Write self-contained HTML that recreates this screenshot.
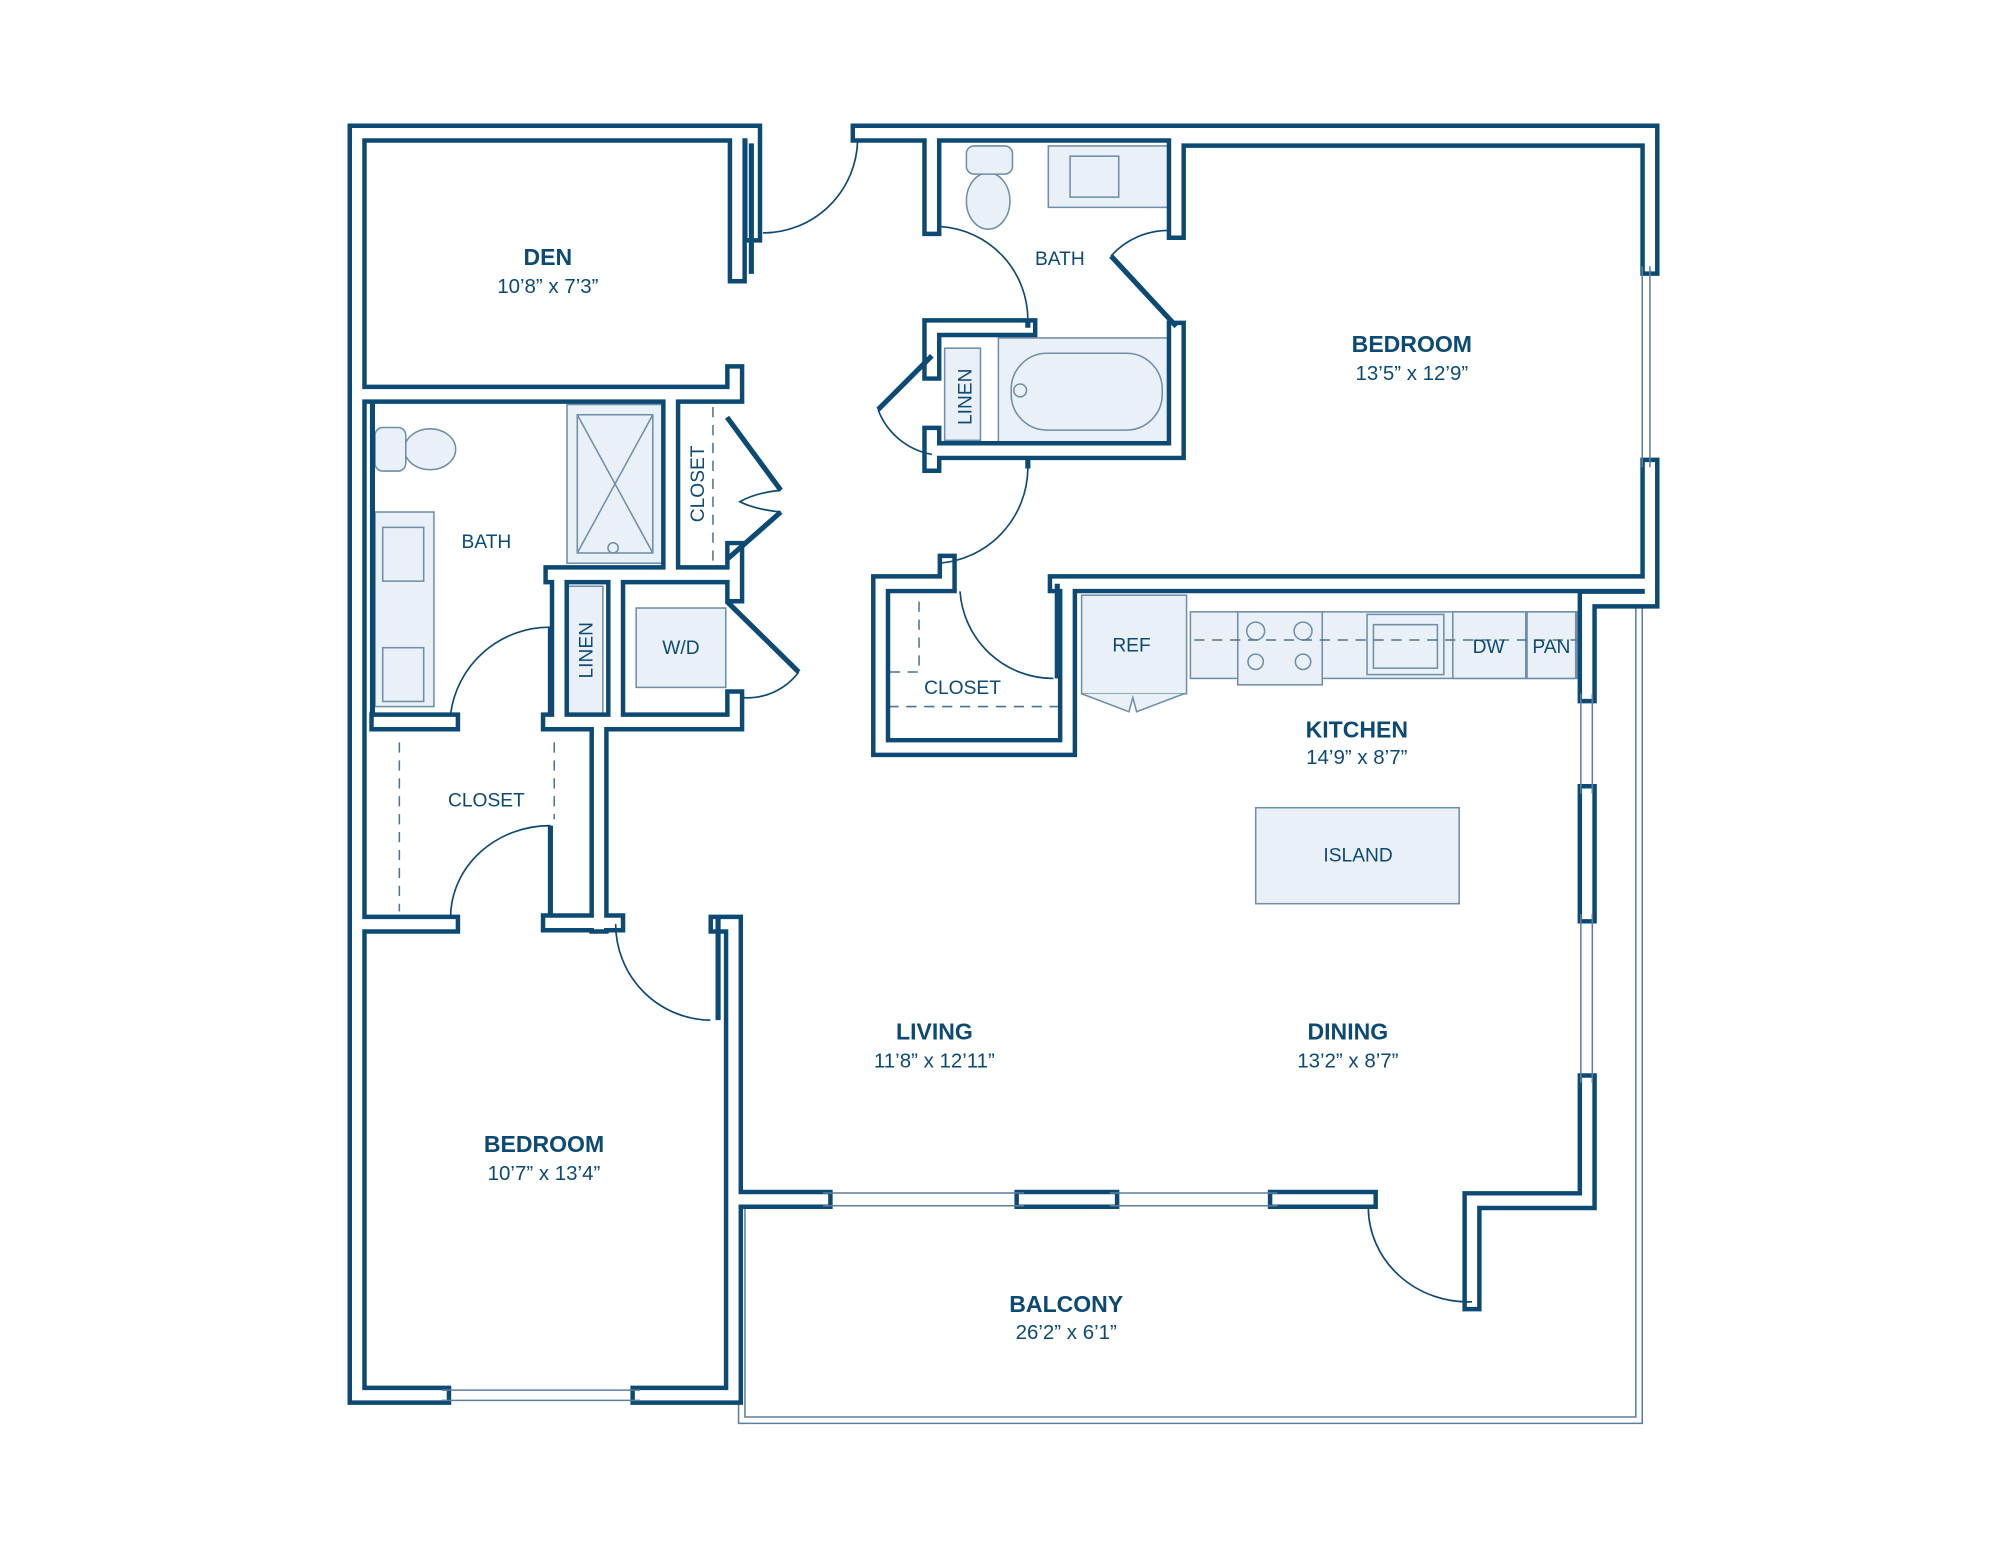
<!DOCTYPE html>
<html><head><meta charset="utf-8"><style>
html,body{margin:0;padding:0;background:#fff;}
svg{display:block;}
text{font-family:"Liberation Sans",sans-serif;fill:#0d4a73;}
.b{font-weight:bold;font-size:18px;}
.d{font-size:16px;}
.s{font-size:15px;}
</style></head><body>
<svg width="2000" height="1545" viewBox="0 0 1562.5 1207" preserveAspectRatio="none" xmlns="http://www.w3.org/2000/svg">
<rect width="1562.5" height="1207" fill="#fff"/>
<!-- balcony outline -->
<g fill="none" stroke="#5d7f9c" stroke-width="1.2">
<path d="M577,944 V1112 H1283 V473"/>
<path d="M582,944 V1107 H1278 V473"/>
</g>
<!-- fixtures -->
<g fill="#e9f0f7" stroke="#6f8ea8" stroke-width="1.2">
<rect x="819" y="114" width="94" height="48"/>
<rect x="836" y="122" width="38" height="32"/>
<ellipse cx="772" cy="157" rx="17" ry="22"/>
<rect x="755" y="114" width="36" height="22" rx="6"/>
<rect x="780" y="264" width="133" height="82"/>
<rect x="790" y="276" width="118" height="60" rx="28"/>
<rect x="738" y="272" width="28" height="72"/>
<rect x="443" y="316" width="75" height="124"/>
<rect x="451" y="324" width="59" height="108"/>
<path d="M451,324 L510,432 M510,324 L451,432" />
<ellipse cx="336" cy="351" rx="20" ry="16"/>
<rect x="293" y="334" width="24" height="34" rx="6"/>
<rect x="293" y="400" width="46" height="152"/>
<rect x="299" y="412" width="32" height="42"/>
<rect x="299" y="506" width="32" height="42"/>
<rect x="443" y="458" width="28" height="100"/>
<rect x="497" y="475" width="70" height="62"/>
<rect x="845" y="465" width="82" height="77"/>
<path d="M845,542 L882,556 L885,545 L888,556 L925,542"/>
<rect x="930" y="478" width="302" height="52"/>
<rect x="967" y="478" width="66" height="57"/>
<rect x="1068" y="480" width="60" height="47"/>
<rect x="1135" y="478" width="57" height="52"/>
<rect x="1193" y="478" width="38" height="52"/>
<rect x="981" y="631" width="159" height="75"/>
</g>
<g fill="none" stroke="#6f8ea8" stroke-width="1.2">
<circle cx="981" cy="493" r="7"/><circle cx="981" cy="517" r="6"/>
<circle cx="1018" cy="493" r="7"/><circle cx="1018" cy="517" r="6"/>
<rect x="1073" y="488" width="50" height="34"/>
<circle cx="797" cy="305" r="5"/>
<circle cx="479" cy="428" r="4"/>
</g>
<g fill="none" stroke="#4f7391" stroke-width="1.2" stroke-dasharray="8,6">
<path d="M933,500 H1232"/>
<path d="M557,318 V440"/>
<path d="M312,580 V712"/><path d="M433,580 V640"/>
<path d="M694,552 H828"/><path d="M718,470 V525 H694"/>
</g>
<!-- walls -->
<g fill="none" stroke="#0d4a73" stroke-width="15" stroke-linecap="square" stroke-linejoin="miter">
<path id="w" d="M279,1090 V104 H588 V182 M576,104 V214 M279,308 H574 V292 M524,314 V441 M574,430 V464 M432,449 H574 M437,449 V558 M481,452 V564 M296,564 H352 M430,564 H574 V546 M468,564 V722 M279,722 H352 M430,721 H481 M279,1090 H345 M500,1090 H573 V722 H561 M672,104 H1289 V208 M1289,365 V468 H1240 V542 M1240,620 V714 M1240,846 V938 H1150 V1017 M573,937 H643 M800,937 H867 M998,937 H1069 M728,104 V177 M919,104 V180 M919,258 V352 H728 M728,256 H803 M728,256 V290 M728,340 V362 M740,440 V456 H688 V584 H834 V456 M826,456 H1289 M919,108 H1284"/>
</g>
<g fill="none" stroke="#fff" stroke-width="8" stroke-linecap="square" stroke-linejoin="miter">
<path d="M279,1090 V104 H588 V182 M576,104 V214 M279,308 H574 V292 M524,314 V441 M574,430 V464 M432,449 H574 M437,449 V558 M481,452 V564 M296,564 H352 M430,564 H574 V546 M468,564 V722 M279,722 H352 M430,721 H481 M279,1090 H345 M500,1090 H573 V722 H561 M672,104 H1289 V208 M1289,365 V468 H1240 V542 M1240,620 V714 M1240,846 V938 H1150 V1017 M573,937 H643 M800,937 H867 M998,937 H1069 M728,104 V177 M919,104 V180 M919,258 V352 H728 M728,256 H803 M728,256 V290 M728,340 V362 M740,440 V456 H688 V584 H834 V456 M826,456 H1289 M919,108 H1284"/>
</g>
<!-- extra wall lines -->
<g fill="none" stroke="#0d4a73" stroke-width="4">
<path d="M587,112 V214"/>
<path d="M561,716 V797"/>
<path d="M826,456 V530"/>
<path d="M291,314 V558"/>
<path d="M868,200 L919,255"/>
<path d="M728,278 L686,320"/>
<path d="M568,326 L610,383 M610,400 L568,437"/>
<path d="M568,470 L624,525"/>
<path d="M430,490 V558 M430,645 V716"/>
<path d="M803,250 V256 M803,358 V366"/>
</g>
<!-- windows -->
<g fill="none" stroke="#5d7f9c" stroke-width="1.2">
<path d="M1283,208 V365 M1289,208 V365"/>
<path d="M1235,542 V620 M1244,542 V620 M1235,714 V846 M1244,714 V846"/>
<path d="M643,932 H800 M643,942 H800 M867,932 H998 M867,942 H998"/>
<path d="M345,1086 H500 M345,1094 H500"/>
</g>
<!-- door arcs -->
<g fill="none" stroke="#0d4a73" stroke-width="1.3">
<path d="M596,182 A74,74 0 0 0 670,110"/>
<path d="M735,177 A73,73 0 0 1 803,250"/>
<path d="M868,200 A60,60 0 0 1 913,180"/>
<path d="M686,320 A55,55 0 0 0 728,355"/>
<path d="M803,366 A75,75 0 0 1 733,440"/>
<path d="M750,462 A73,73 0 0 0 823,530"/>
<path d="M610,383 Q590,385 578,392 Q590,398 610,400"/>
<path d="M624,525 A50,50 0 0 1 580,545"/>
<path d="M352,558 A78,78 0 0 1 430,490"/>
<path d="M352,716 A78,72 0 0 1 430,645"/>
<path d="M481,722 A75,75 0 0 0 555,797"/>
<path d="M1069,944 A78,74 0 0 0 1150,1017"/>
</g>
<!-- labels -->
<g text-anchor="middle">
<text class="b" x="428" y="207">DEN</text><text class="d" x="428" y="229">10’8” x 7’3”</text>
<text class="s" x="828" y="207">BATH</text>
<text class="b" x="1103" y="275">BEDROOM</text><text class="d" x="1103" y="297">13’5” x 12’9”</text>
<text class="s" x="380" y="428">BATH</text>
<text class="s" x="532" y="511">W/D</text>
<text class="s" x="884" y="509">REF</text>
<text class="s" x="1163" y="510">DW</text>
<text class="s" x="1212" y="510">PAN</text>
<text class="s" x="752" y="542">CLOSET</text>
<text class="b" x="1060" y="576">KITCHEN</text><text class="d" x="1060" y="597">14’9” x 8’7”</text>
<text class="s" x="1061" y="673">ISLAND</text>
<text class="s" x="380" y="630">CLOSET</text>
<text class="b" x="730" y="812">LIVING</text><text class="d" x="730" y="834">11’8” x 12’11”</text>
<text class="b" x="1053" y="812">DINING</text><text class="d" x="1053" y="834">13’2” x 8’7”</text>
<text class="b" x="425" y="900">BEDROOM</text><text class="d" x="425" y="922">10’7” x 13’4”</text>
<text class="b" x="833" y="1025">BALCONY</text><text class="d" x="833" y="1046">26’2” x 6’1”</text>
<text class="s" transform="translate(759,310) rotate(-90)">LINEN</text>
<text class="s" transform="translate(550,378) rotate(-90)">CLOSET</text>
<text class="s" transform="translate(463,508) rotate(-90)">LINEN</text>
</g>
</svg>
</body></html>
